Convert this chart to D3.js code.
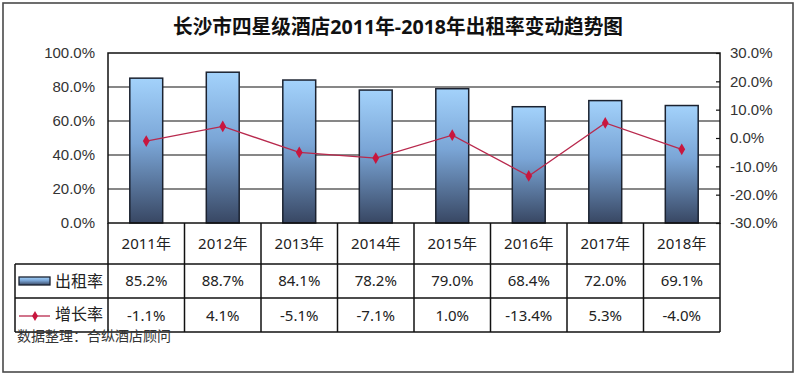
<!DOCTYPE html>
<html>
<head>
<meta charset="utf-8">
<script src="https://cdn.jsdelivr.net/npm/d3@7"></script>
<style>
  body { margin: 0; background: #fff; }
  text { font-family: "Liberation Sans", Arial, sans-serif; }
  .cjk { font-family: "Noto Sans", "Noto Sans CJK SC", sans-serif; }
</style>
</head>
<body>
<div id="chart"></div>
<script>
// chart data
const years = ["2011年", "2012年", "2013年", "2014年", "2015年", "2016年", "2017年", "2018年"];
const occupancy = [85.2, 88.7, 84.1, 78.2, 79.0, 68.4, 72.0, 69.1];
const growth = [-1.1, 4.1, -5.1, -7.1, 1.0, -13.4, 5.3, -4.0];
const leftTicks = [0, 20, 40, 60, 80, 100];
const rightTicks = [-30, -20, -10, 0, 10, 20, 30];
const seriesNames = ["出租率", "增长率"];
const title = "长沙市四星级酒店2011年-2018年出租率变动趋势图";
const source = "数据整理：合纵酒店顾问";

var W = 800, H = 377;
var plot = {left: 108, right: 720, top: 53, bottom: 223};
var rowY = [223, 264, 298, 332];
var tableLeft = 15;

var svg = d3.select("#chart")
    .append("svg")
    .attr("width", W)
    .attr("height", H);

// gradient for bars
var defs = svg.append("defs");
var grad = defs.append("linearGradient")
    .attr("id", "barGrad")
    .attr("x1", 0).attr("y1", 0).attr("x2", 0).attr("y2", 1);
grad.append("stop").attr("offset", "0%").attr("stop-color", "#a3d2fb");
grad.append("stop").attr("offset", "45%").attr("stop-color", "#7aa5d6");
grad.append("stop").attr("offset", "100%").attr("stop-color", "#384763");

// outer frame
svg.append("rect")
    .attr("x", 3).attr("y", 3)
    .attr("width", 790).attr("height", 369)
    .attr("fill", "#fff")
    .attr("stroke", "#4a4a4a")
    .attr("stroke-width", 1.6);

// title
svg.append("text")
    .attr("class", "cjk")
    .attr("x", 398)
    .attr("y", 34)
    .attr("text-anchor", "middle")
    .attr("textLength", 450)
    .attr("lengthAdjust", "spacingAndGlyphs")
    .style("font-size", "20px")
    .style("font-weight", "bold")
    .style("fill", "#111")
    .text(title);

// scales
var x = d3.scaleBand()
    .domain(years)
    .range([plot.left, plot.right])
    .padding(0);
var barW = x.bandwidth() * 0.43;

var yLeft = d3.scaleLinear()
    .domain([0, 100])
    .range([plot.bottom, plot.top]);
var yRight = d3.scaleLinear()
    .domain([-30, 30])
    .range([plot.bottom, plot.top]);

var pct = function(d) { return d.toFixed(1) + "%"; };

// gridlines
svg.append("g")
    .selectAll("line")
    .data(leftTicks.slice(1, -1))
    .enter()
    .append("line")
    .attr("x1", plot.left).attr("x2", plot.right)
    .attr("y1", function(d) { return yLeft(d); })
    .attr("y2", function(d) { return yLeft(d); })
    .attr("stroke", "#111")
    .attr("stroke-width", 1.2);

// left axis
var gl = svg.append("g")
    .attr("transform", "translate(" + plot.left + ",0)")
    .call(d3.axisLeft(yLeft).tickValues(leftTicks).tickFormat(pct).tickSize(0).tickPadding(13));
gl.select(".domain").remove();
gl.selectAll("text")
    .style("font-size", "15px")
    .style("font-family", "'Liberation Sans', Arial, sans-serif")
    .style("fill", "#333");

// right axis
var gr = svg.append("g")
    .attr("transform", "translate(" + plot.right + ",0)")
    .call(d3.axisRight(yRight).tickValues(rightTicks).tickFormat(pct).tickSizeInner(-4).tickSizeOuter(0).tickPadding(10));
gr.select(".domain").remove();
gr.selectAll("line").attr("stroke", "#111").attr("stroke-width", 1.2);
gr.selectAll("text")
    .style("font-size", "15px")
    .style("font-family", "'Liberation Sans', Arial, sans-serif")
    .style("fill", "#333");

// bars
svg.append("g")
    .selectAll("rect")
    .data(occupancy)
    .enter()
    .append("rect")
    .attr("x", function(d, i) { return x(years[i]) + (x.bandwidth() - barW) / 2; })
    .attr("y", function(d) { return yLeft(d); })
    .attr("width", barW)
    .attr("height", function(d) { return plot.bottom - yLeft(d); })
    .attr("fill", "url(#barGrad)")
    .attr("stroke", "#1b2230")
    .attr("stroke-width", 1.5);

// growth line
var line = d3.line()
    .x(function(d, i) { return x(years[i]) + x.bandwidth() / 2; })
    .y(function(d) { return yRight(d); });
svg.append("path")
    .datum(growth)
    .attr("d", line)
    .attr("fill", "none")
    .attr("stroke", "#b8294d")
    .attr("stroke-width", 1.3);
svg.append("g")
    .selectAll("path")
    .data(growth)
    .enter()
    .append("path")
    .attr("d", d3.symbol().type(d3.symbolDiamond).size(40))
    .attr("transform", function(d, i) {
        return "translate(" + (x(years[i]) + x.bandwidth() / 2) + "," + yRight(d) + ")";
    })
    .attr("fill", "#c8163e");

// plot frame
svg.append("rect")
    .attr("x", plot.left).attr("y", plot.top)
    .attr("width", plot.right - plot.left)
    .attr("height", plot.bottom - plot.top)
    .attr("fill", "none")
    .attr("stroke", "#111")
    .attr("stroke-width", 1.5);

// data table
var table = svg.append("g").attr("stroke", "#111").attr("stroke-width", 1.5);
// horizontal lines
table.append("line").attr("x1", tableLeft).attr("x2", plot.right).attr("y1", rowY[1]).attr("y2", rowY[1]);
table.append("line").attr("x1", tableLeft).attr("x2", plot.right).attr("y1", rowY[2]).attr("y2", rowY[2]);
table.append("line").attr("x1", tableLeft).attr("x2", plot.right).attr("y1", rowY[3]).attr("y2", rowY[3]);
// vertical lines
table.selectAll(".v")
    .data(years.concat(["end"]))
    .enter()
    .append("line")
    .attr("x1", function(d, i) { return plot.left + i * x.step(); })
    .attr("x2", function(d, i) { return plot.left + i * x.step(); })
    .attr("y1", rowY[0])
    .attr("y2", rowY[3]);
table.append("line").attr("x1", tableLeft).attr("x2", tableLeft).attr("y1", rowY[1]).attr("y2", rowY[3]);

var cellText = function(arr, yMid, fmt) {
    svg.append("g")
        .selectAll("text")
        .data(arr)
        .enter()
        .append("text")
        .attr("class", "cjk")
        .attr("x", function(d, i) { return x(years[i]) + x.bandwidth() / 2; })
        .attr("y", yMid)
        .attr("dy", "0.36em")
        .attr("text-anchor", "middle")
        .style("font-size", "15px")
        .style("fill", "#222")
        .text(fmt);
};
cellText(years, (rowY[0] + rowY[1]) / 2, function(d) { return d; });
cellText(occupancy, (rowY[1] + rowY[2]) / 2, pct);
cellText(growth, (rowY[2] + rowY[3]) / 2 + 1, pct);

// legend in table
var legendY1 = (rowY[1] + rowY[2]) / 2;
var legendY2 = (rowY[2] + rowY[3]) / 2 + 1;
svg.append("rect")
    .attr("x", 19).attr("y", legendY1 - 4)
    .attr("width", 31).attr("height", 8)
    .attr("fill", "url(#barGrad)")
    .attr("stroke", "#1b2230")
    .attr("stroke-width", 1.3);
svg.append("line")
    .attr("x1", 19).attr("x2", 50)
    .attr("y1", legendY2).attr("y2", legendY2)
    .attr("stroke", "#b8294d")
    .attr("stroke-width", 1.3);
svg.append("path")
    .attr("d", d3.symbol().type(d3.symbolDiamond).size(30))
    .attr("transform", "translate(35," + legendY2 + ")")
    .attr("fill", "#c8163e");
svg.selectAll(".legtext")
    .data(seriesNames)
    .enter()
    .append("text")
    .attr("class", "cjk")
    .attr("x", 55)
    .attr("y", function(d, i) { return i === 0 ? legendY1 : legendY2 - 2; })
    .attr("dy", "0.36em")
    .style("font-size", "16px")
    .style("fill", "#222")
    .text(function(d) { return d; });

// source note (overlaps the table edge, as in the original)
svg.append("text")
    .attr("class", "cjk")
    .attr("x", 17)
    .attr("y", 341)
    .style("font-size", "14px")
    .style("fill", "#333")
    .text(source);
</script>
</body>
</html>
